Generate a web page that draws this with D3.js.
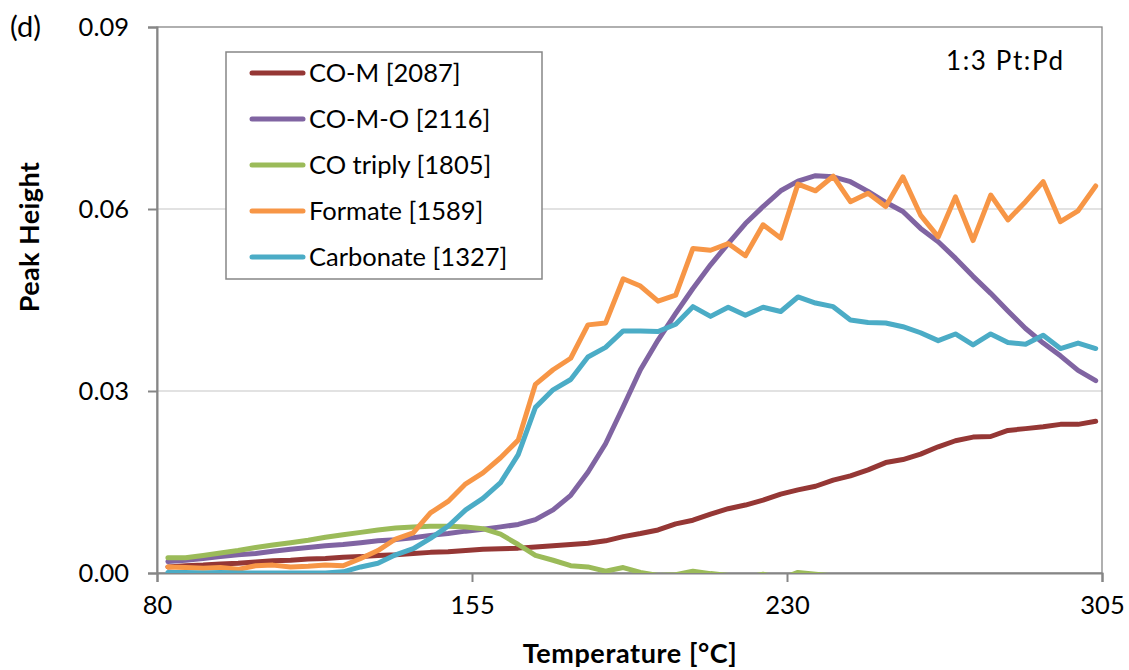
<!DOCTYPE html>
<html>
<head>
<meta charset="utf-8">
<script src="https://cdn.jsdelivr.net/npm/d3@7"></script>
<style>
  body { margin: 0; background: #fff; }
  svg { display: block; font-family: Lato, "Open Sans", sans-serif; }
</style>
</head>
<body>
<div id="chart"></div>
<script>
// ---- data ----
const temps = [82.6, 86.8, 91.0, 95.1, 99.3, 103.5, 107.6, 111.8, 116.0, 120.1,
  124.3, 128.5, 132.6, 136.8, 141.0, 145.1, 149.3, 153.5, 157.6, 161.8,
  166.0, 170.1, 174.3, 178.5, 182.6, 186.8, 191.0, 195.1, 199.3, 203.5,
  207.6, 211.8, 216.0, 220.1, 224.3, 228.5, 232.6, 236.8, 241.0, 245.1,
  249.3, 253.5, 257.6, 261.8, 266.0, 270.1, 274.3, 278.5, 282.6, 286.8,
  291.0, 295.1, 299.3, 303.5];

const coM = [0.0010, 0.0012, 0.0013, 0.0015, 0.0016, 0.0018, 0.0020, 0.0021, 0.0023, 0.0024,
  0.0026, 0.0027, 0.0029, 0.0030, 0.0032, 0.0034, 0.0035, 0.0037, 0.0039, 0.0040,
  0.0041, 0.0043, 0.0045, 0.0047, 0.0049, 0.0053, 0.0060, 0.0065, 0.0071, 0.0081,
  0.0087, 0.0097, 0.0106, 0.0112, 0.0120, 0.0130, 0.0137, 0.0143, 0.0153, 0.0160,
  0.0170, 0.0182, 0.0187, 0.0196, 0.0208, 0.0218, 0.0224, 0.0225, 0.0235, 0.0238,
  0.0241, 0.0245, 0.0245, 0.0250];

const coMO = [0.0019, 0.0021, 0.0024, 0.0027, 0.0030, 0.0032, 0.0036, 0.0039, 0.0042, 0.0045,
  0.0047, 0.0050, 0.0053, 0.0055, 0.0058, 0.0062, 0.0065, 0.0069, 0.0072, 0.0076,
  0.0080, 0.0088, 0.0104, 0.0128, 0.0166, 0.0213, 0.0274, 0.0335, 0.0384, 0.0428,
  0.0469, 0.0508, 0.0543, 0.0576, 0.0604, 0.0630, 0.0646, 0.0655, 0.0653, 0.0645,
  0.0629, 0.0611, 0.0596, 0.0568, 0.0546, 0.0519, 0.0489, 0.0461, 0.0432, 0.0403,
  0.0379, 0.0358, 0.0334, 0.0317];

const coTriply = [0.0025, 0.0025, 0.0029, 0.0033, 0.0037, 0.0042, 0.0046, 0.0050, 0.0054, 0.0059,
  0.0063, 0.0067, 0.0071, 0.0074, 0.0076, 0.0077, 0.0077, 0.0076, 0.0073, 0.0064,
  0.0047, 0.0029, 0.0021, 0.0012, 0.0010, 0.0003, 0.0009, 0.0001, -0.0004, -0.0003,
  0.0003, -0.0001, -0.0004, -0.0008, -0.0002, -0.0010, 0.0001, -0.0002, -0.0005, -0.0010,
  -0.0012, -0.0013, -0.0015, -0.0014, -0.0016, -0.0015, -0.0017, -0.0016, -0.0018, -0.0017,
  -0.0019, -0.0018, -0.0020, -0.0019];

const formate = [0.0010, 0.0009, 0.0008, 0.0009, 0.0006, 0.0012, 0.0013, 0.0010, 0.0011, 0.0013,
  0.0012, 0.0024, 0.0037, 0.0056, 0.0066, 0.0099, 0.0118, 0.0147, 0.0165, 0.0190,
  0.0219, 0.0311, 0.0335, 0.0354, 0.0409, 0.0412, 0.0485, 0.0473, 0.0448, 0.0458,
  0.0535, 0.0532, 0.0543, 0.0523, 0.0574, 0.0552, 0.0641, 0.0630, 0.0654, 0.0612,
  0.0626, 0.0604, 0.0653, 0.0590, 0.0554, 0.0620, 0.0548, 0.0623, 0.0582, 0.0612,
  0.0645, 0.0579, 0.0597, 0.0638];

const carbonate = [0.0001, 0.0001, 0.0000, 0.0001, 0.0000, 0.0000, 0.0000, 0.0000, 0.0000, 0.0000,
  0.0002, 0.0010, 0.0016, 0.0030, 0.0040, 0.0057, 0.0077, 0.0104, 0.0123, 0.0149,
  0.0195, 0.0273, 0.0302, 0.0319, 0.0356, 0.0372, 0.0399, 0.0399, 0.0398, 0.0410,
  0.0439, 0.0423, 0.0438, 0.0425, 0.0438, 0.0431, 0.0455, 0.0445, 0.0439, 0.0417,
  0.0413, 0.0412, 0.0406, 0.0396, 0.0383, 0.0394, 0.0376, 0.0394, 0.0380, 0.0377,
  0.0392, 0.0370, 0.0379, 0.0370];

const seriesNames = ["CO-M [2087]", "CO-M-O [2116]", "CO triply [1805]", "Formate [1589]", "Carbonate [1327]"];
const seriesValues = [coM, coMO, coTriply, formate, carbonate];
const seriesColors = ["#953735", "#8064a2", "#9bbb59", "#f79646", "#4bacc6"];

const xTicks = [80, 155, 230, 305];
const yTicks = [0, 0.03, 0.06, 0.09];

// ---- layout ----
const width = 1129, height = 670;
const plot = { left: 157, right: 1102, top: 27, bottom: 573 };
const axisColor = "#868686";

const svg = d3.select("#chart").append("svg")
  .attr("width", width)
  .attr("height", height);

const x = d3.scaleLinear().domain([80, 305]).range([plot.left, plot.right]);
const y = d3.scaleLinear().domain([0, 0.09]).range([plot.bottom, plot.top]);

// gridlines
svg.append("g")
  .selectAll("line")
  .data(yTicks.filter(d => d > 0 && d < 0.09))
  .join("line")
  .attr("x1", plot.left).attr("x2", plot.right)
  .attr("y1", d => y(d)).attr("y2", d => y(d))
  .attr("stroke", "#d9d9d9")
  .attr("stroke-width", 1.3);

// plot frame (top + right)
svg.append("rect")
  .attr("x", plot.left).attr("y", plot.top)
  .attr("width", plot.right - plot.left).attr("height", plot.bottom - plot.top)
  .attr("fill", "none")
  .attr("stroke", axisColor)
  .attr("stroke-width", 1.3);

// axes
const xAxis = svg.append("g")
  .attr("transform", `translate(0,${plot.bottom})`)
  .call(d3.axisBottom(x).tickValues(xTicks).tickSize(9).tickPadding(14).tickFormat(d3.format("d")));

const yAxis = svg.append("g")
  .attr("transform", `translate(${plot.left},0)`)
  .call(d3.axisLeft(y).tickValues(yTicks).tickSize(9).tickPadding(19).tickFormat(d3.format(".2f")));

[xAxis, yAxis].forEach(g => {
  g.select(".domain").attr("stroke", axisColor).attr("stroke-width", 2);
  g.selectAll(".tick line").attr("stroke", axisColor).attr("stroke-width", 2);
  g.selectAll(".tick text")
    .attr("fill", "#000")
    .style("font-family", "Lato, sans-serif")
    .style("font-size", "25.5px");
});

// clip lines to plot area
svg.append("clipPath").attr("id", "plot-clip")
  .append("rect")
  .attr("x", plot.left).attr("y", plot.top)
  .attr("width", plot.right - plot.left).attr("height", plot.bottom - plot.top);

const line = d3.line()
  .x((d, i) => x(temps[i]))
  .y(d => y(d));

svg.append("g")
  .attr("clip-path", "url(#plot-clip)")
  .selectAll("path")
  .data(seriesValues)
  .join("path")
  .attr("d", d => line(d))
  .attr("fill", "none")
  .attr("stroke", (d, i) => seriesColors[i])
  .attr("stroke-width", 5)
  .attr("stroke-linejoin", "round")
  .attr("stroke-linecap", "round");

// legend
const legend = svg.append("g");
legend.append("rect")
  .attr("x", 226).attr("y", 52)
  .attr("width", 316).attr("height", 227)
  .attr("fill", "#fff")
  .attr("stroke", axisColor)
  .attr("stroke-width", 1.5);

const items = legend.selectAll("g.item")
  .data(seriesNames)
  .join("g")
  .attr("class", "item")
  .attr("transform", (d, i) => `translate(0,${73 + i * 46})`);

items.append("line")
  .attr("x1", 252).attr("x2", 303)
  .attr("stroke", (d, i) => seriesColors[i])
  .attr("stroke-width", 5)
  .attr("stroke-linecap", "round");

items.append("text")
  .attr("x", 309).attr("y", 9)
  .style("font-size", "25.5px")
  .text(d => d);

// labels
svg.append("text")
  .attr("x", 10).attr("y", 37)
  .style("font-size", "29px")
  .text("(d)");

svg.append("text")
  .attr("x", 946).attr("y", 70)
  .style("font-size", "26px")
  .style("letter-spacing", "1.6px")
  .text("1:3 Pt:Pd");

svg.append("text")
  .attr("x", 630).attr("y", 663)
  .attr("text-anchor", "middle")
  .style("font-size", "27px")
  .style("font-weight", "bold")
  .style("letter-spacing", "0.6px")
  .text("Temperature [°C]");

svg.append("text")
  .attr("transform", "translate(39,237) rotate(-90)")
  .attr("text-anchor", "middle")
  .style("font-size", "27px")
  .style("font-weight", "bold")
  .style("letter-spacing", "0.4px")
  .text("Peak Height");
</script>
</body>
</html>
